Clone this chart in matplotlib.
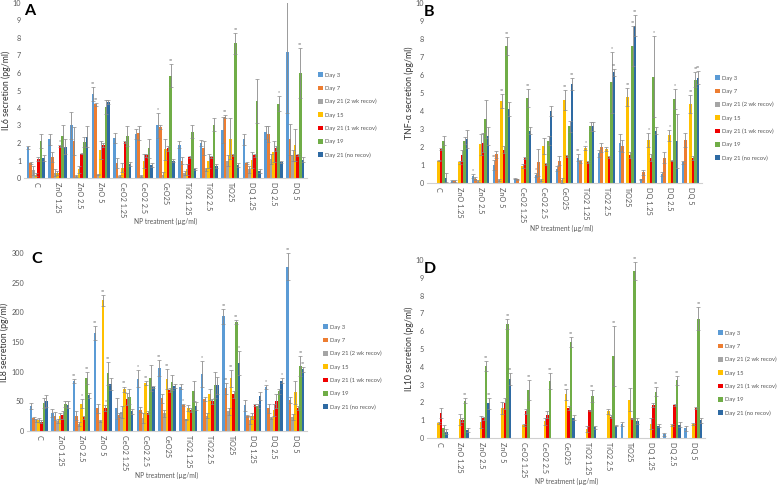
import matplotlib
matplotlib.use("Agg")
import matplotlib.pyplot as plt
import numpy as np
from matplotlib.patches import Patch

plt.rcParams["font.family"] = ["Lato", "DejaVu Sans"]

categories = ["C", "ZnO 1.25", "ZnO 2.5", "ZnO 5", "CeO2 1.25", "CeO2 2.5", "CeO25",
              "TiO2 1.25", "TiO2 2.5", "TiO25", "DQ 1.25", "DQ 2.5", "DQ 5"]
series = ["Day 3", "Day 7", "Day 21 (2 wk recov)", "Day 15", "Day 21 (1 wk recov)",
          "Day 19", "Day 21 (no recov)"]
colors = ["#5B9BD5", "#ED7D31", "#A5A5A5", "#FFC000", "#F00000", "#70AD47", "#2E6AA3"]

# Panel A: IL6 (pg/ml)
il6_day3 = [1.75, 2.2, 3.0, 4.8, 2.3, 2.5, 3.0, 1.9, 2.0, 2.75, 2.2, 2.6, 7.2]
il6_day7 = [0.85, 1.2, 2.1, 4.2, 0.85, 2.55, 2.9, 1.0, 1.7, 3.5, 0.85, 2.5, 2.2]
il6_d21_2wk = [0.45, 0.3, 0.1, 0.2, 0.1, 0.1, 0.15, 0.3, 0.5, 1.0, 0.5, 1.1, 1.3]
il6_day15 = [0.2, 0.3, 0.5, 1.6, 0.6, 1.0, 1.65, 0.5, 1.0, 2.25, 1.05, 1.5, 1.9]
il6_d21_1wk = [1.1, 1.85, 1.4, 1.9, 2.05, 1.3, 1.7, 1.2, 1.2, 1.3, 1.3, 1.7, 1.3]
il6_day19 = [2.1, 2.4, 2.05, 4.05, 2.4, 1.7, 5.85, 2.65, 3.05, 7.7, 4.4, 4.25, 6.0]
il6_d21_no = [1.15, 1.8, 2.35, 4.35, 0.8, 0.75, 1.0, 0.5, 0.7, 0.75, 0.4, 0.9, 1.05]
il6_err_day3 = [0.1, 0.3, 0.75, 0.4, 0.3, 0.3, 0.7, 0.2, 0.15, 0.75, 0.3, 0.35, 3.5]
il6_err_day7 = [0.05, 0.3, 0.8, 0.1, 0.3, 0.4, 0.1, 0.2, 0.4, 0.1, 0.05, 0.45, 0.9]
il6_err_d21_2wk = [0.25, 0.2, 0.05, 0.05, 0.05, 0.05, 0.2, 0.1, 0.1, 0.3, 0.2, 0.3, 0.3]
il6_err_day15 = [0.1, 0.1, 0.2, 0.5, 0.25, 0.4, 0.6, 0.3, 0.4, 1.15, 0.45, 0.6, 0.9]
il6_err_d21_1wk = [0.1, 0.05, 0.05, 0.1, 0.05, 0.1, 0.15, 0.05, 0.05, 0.05, 0.1, 0.15, 0.05]
il6_err_day19 = [0.4, 0.6, 0.3, 0.4, 0.55, 0.55, 0.65, 0.35, 0.35, 0.6, 1.25, 0.45, 1.45]
il6_err_d21_no = [0.15, 0.4, 0.6, 0.1, 0.1, 0.1, 0.1, 0.05, 0.1, 0.1, 0.1, 0.05, 0.15]
il6_sig = [(1, 4, "*"), (3, 0, "**"), (3, 1, "**"), (6, 0, "*"), (6, 5, "**"),
           (9, 1, "**"), (9, 5, "**"), (11, 5, "*"), (12, 5, "**")]

# Panel B: TNF-alpha (pg/ml)
tnf_day3 = [0, 0.1, 0.4, 1.0, 0.25, 0.45, 0.8, 1.4, 1.65, 2.25, 0.2, 0.5, 1.15]
tnf_day7 = [0, 0.1, 0.25, 1.6, 0.2, 1.15, 1.25, 1.2, 2.0, 2.05, 0.6, 1.4, 2.4]
tnf_d21_2wk = [0, 0, 0.1, 0.15, 0, 0.15, 0.15, 0, 0, 0, 0, 0, 0]
tnf_day15 = [1.25, 1.15, 2.15, 4.55, 0.95, 2.05, 4.6, 1.95, 1.9, 4.8, 2.4, 2.65, 4.4]
tnf_d21_1wk = [1.9, 1.55, 2.25, 1.85, 1.4, 1.05, 1.5, 1.15, 1.45, 1.55, 1.4, 1.25, 1.4]
tnf_day19 = [2.35, 2.35, 3.55, 7.6, 4.7, 2.35, 3.15, 3.15, 5.6, 7.6, 5.9, 4.65, 5.75]
tnf_d21_no = [0.3, 2.45, 2.6, 4.1, 2.9, 4.0, 5.5, 3.15, 6.15, 8.75, 2.9, 2.35, 5.85]
tnf_err_day3 = [0, 0.05, 0.1, 0.3, 0.05, 0.1, 0.15, 0.2, 0.2, 0.45, 0.05, 0.1, 0.1]
tnf_err_day7 = [0, 0.05, 0.1, 0.2, 0.05, 0.75, 0.25, 0.1, 0.25, 0.35, 0.15, 0.3, 0.4]
tnf_err_d21_2wk = [0, 0, 0.05, 0.05, 0, 0.05, 0.15, 0, 0, 0, 0, 0, 0]
tnf_err_day15 = [0.05, 0.1, 0.6, 0.4, 0.1, 0.45, 0.55, 0.1, 0.1, 0.5, 0.4, 0.3, 0.5]
tnf_err_d21_1wk = [0.05, 0.3, 0.55, 0.2, 0.05, 0.05, 0.05, 0.05, 0.05, 0.15, 0.2, 0.05, 0.1]
tnf_err_day19 = [0.25, 0.2, 1.05, 0.5, 0.5, 0.25, 0.3, 0.25, 1.7, 1.1, 2.25, 0.55, 0.4]
tnf_err_d21_no = [0.25, 0.5, 0.5, 0.4, 0.2, 0.3, 0.35, 0.25, 0.2, 0.6, 0.2, 1.5, 0.35]
tnf_sig = [(2, 0, "*"), (3, 0, "**"), (3, 3, "**"), (3, 5, "**"), (4, 5, "**"), (5, 0, "*"),
           (6, 3, "**"), (6, 6, "**"), (7, 0, "**"), (7, 3, "*"), (8, 5, "*"), (8, 6, "**"),
           (9, 3, "**"), (9, 5, "**"), (9, 6, "**"), (10, 3, "*"), (10, 5, "*"), (11, 3, "*"),
           (11, 5, "*"), (12, 3, "**"), (12, 5, "**"), (12, 6, "**")]

# Panel C: IL8 (pg/ml)
il8_day3 = [42, 30, 84, 165, 38, 88, 106, 75, 96, 193, 43, 74, 277]
il8_day7 = [22, 25, 26, 38, 27, 36, 55, 44, 54, 72, 25, 38, 52]
il8_d21_2wk = [18, 17, 12, 17, 32, 22, 30, 20, 26, 33, 18, 22, 24]
il8_day15 = [19, 25, 46, 220, 70, 81, 87, 38, 62, 89, 26, 36, 65]
il8_d21_1wk = [16, 27, 23, 39, 54, 31, 69, 35, 50, 62, 44, 50, 39]
il8_day19 = [47, 45, 90, 97, 58, 90, 82, 68, 77, 184, 42, 67, 110]
il8_d21_no = [50, 44, 60, 79, 33, 74, 76, 42, 77, 114, 59, 85, 104]
il8_err_day3 = [5, 7, 3, 12, 17, 14, 13, 4, 22, 13, 10, 4, 23]
il8_err_day7 = [2, 7, 7, 7, 3, 4, 8, 2, 3, 9, 2, 7, 5]
il8_err_d21_2wk = [3, 3, 3, 2, 10, 8, 6, 1, 4, 6, 7, 2, 5]
il8_err_day15 = [3, 5, 8, 10, 5, 4, 17, 5, 9, 14, 5, 10, 20]
il8_err_d21_1wk = [2, 7, 3, 5, 10, 3, 3, 3, 4, 6, 2, 12, 3]
il8_err_day19 = [8, 5, 10, 20, 12, 22, 13, 17, 22, 3, 3, 4, 17]
il8_err_d21_no = [10, 6, 4, 10, 4, 2, 4, 7, 14, 20, 7, 4, 4]
il8_sig = [(2, 0, "**"), (2, 3, "*"), (2, 5, "**"), (3, 0, "**"), (3, 3, "**"), (3, 4, "*"),
           (3, 5, "**"), (4, 3, "**"), (5, 0, "*"), (5, 3, "**"), (6, 0, "**"), (6, 3, "**"),
           (7, 1, "*"), (8, 0, "*"), (9, 0, "**"), (9, 1, "**"), (9, 3, "**"), (9, 5, "**"),
           (9, 6, "*"), (11, 0, "*"), (11, 6, "*"), (12, 0, "**"), (12, 5, "**"), (12, 6, "**")]

# Panel D: IL10 (pg/ml)
il10_day3 = [0, 0, 0, 0, 0, 0, 0, 0, 0, 0.8, 0, 0.2, 0.55]
il10_day7 = [0, 0, 0, 0, 0, 0, 0, 0, 0, 0, 0, 0, 0]
il10_d21_2wk = [0, 0, 0, 0, 0, 0, 0, 0, 0, 0, 0, 0, 0]
il10_day15 = [0.85, 1.05, 0.9, 1.7, 0.75, 0.95, 2.45, 0.5, 1.5, 2.15, 0.8, 0.75, 0.8]
il10_d21_1wk = [1.4, 1.0, 1.1, 1.95, 1.5, 1.3, 1.7, 1.55, 1.2, 1.1, 1.85, 1.85, 1.7]
il10_day19 = [0.55, 2.1, 4.05, 6.4, 2.7, 3.2, 5.4, 2.35, 4.6, 9.4, 2.6, 3.25, 6.7]
il10_d21_no = [0.35, 0.45, 1.95, 3.3, 0, 0, 1.15, 0.6, 0.7, 0.95, 0.7, 0.75, 1.0]
il10_err_day3 = [0, 0, 0, 0, 0, 0, 0, 0, 0, 0.1, 0, 0.1, 0.15]
il10_err_day7 = [0] * 13
il10_err_d21_2wk = [0] * 13
il10_err_day15 = [0.05, 0.3, 0.35, 0.35, 0.05, 0.2, 0.3, 0.15, 0.15, 0.65, 0.3, 0.05, 0.05]
il10_err_d21_1wk = [0.3, 0.1, 0.1, 0.3, 0.15, 0.2, 0.1, 0.05, 0.1, 0.05, 0.1, 0.05, 0.05]
il10_err_day19 = [0.2, 0.15, 0.3, 0.3, 0.55, 0.45, 0.3, 0.35, 1.7, 0.5, 0.25, 0.25, 0.65]
il10_err_d21_no = [0.15, 0.1, 0.3, 0.35, 0, 0, 0.15, 0.1, 0.05, 0.15, 0.1, 0.15, 0.15]
il10_sig = [(1, 5, "**"), (2, 5, "**"), (2, 6, "**"), (3, 5, "**"), (3, 6, "**"), (4, 5, "**"),
            (5, 5, "**"), (6, 3, "**"), (6, 5, "**"), (7, 5, "**"), (8, 5, "**"), (9, 5, "**"),
            (10, 5, "**"), (11, 5, "**"), (12, 5, "**")]

panels = [
    dict(letter="A", ylabel="IL6 secretion (pg/ml)", ymax=10, ystep=1,
         vals=[il6_day3, il6_day7, il6_d21_2wk, il6_day15, il6_d21_1wk, il6_day19, il6_d21_no],
         errs=[il6_err_day3, il6_err_day7, il6_err_d21_2wk, il6_err_day15, il6_err_d21_1wk,
               il6_err_day19, il6_err_d21_no], sig=il6_sig,
         rect=[24 / 778, 1 - 178 / 487, 283 / 778, 175 / 487], leg=(315, 115), xl=(166, 221),
         let=(24, 4)),
    dict(letter="B", ylabel="TNF-α secretion (pg/ml)", ymax=10, ystep=1,
         vals=[tnf_day3, tnf_day7, tnf_d21_2wk, tnf_day15, tnf_d21_1wk, tnf_day19, tnf_d21_no],
         errs=[tnf_err_day3, tnf_err_day7, tnf_err_d21_2wk, tnf_err_day15, tnf_err_d21_1wk,
               tnf_err_day19, tnf_err_d21_no], sig=tnf_sig,
         rect=[427 / 778, 1 - 183 / 487, 275 / 778, 180 / 487], leg=(712, 118), xl=(562, 228),
         let=(424, 5)),
    dict(letter="C", ylabel="IL8 secretion (pg/ml)", ymax=300, ystep=50,
         vals=[il8_day3, il8_day7, il8_d21_2wk, il8_day15, il8_d21_1wk, il8_day19, il8_d21_no],
         errs=[il8_err_day3, il8_err_day7, il8_err_d21_2wk, il8_err_day15, il8_err_d21_1wk,
               il8_err_day19, il8_err_d21_no], sig=il8_sig,
         rect=[27 / 778, 1 - 431 / 487, 280 / 778, 178 / 487], leg=(320, 367), xl=(167, 475),
         let=(31, 252)),
    dict(letter="D", ylabel="IL10 secretion (pg/ml)", ymax=10, ystep=1,
         vals=[il10_day3, il10_day7, il10_d21_2wk, il10_day15, il10_d21_1wk, il10_day19, il10_d21_no],
         errs=[il10_err_day3, il10_err_day7, il10_err_d21_2wk, il10_err_day15, il10_err_d21_1wk,
               il10_err_day19, il10_err_d21_no], sig=il10_sig,
         rect=[427 / 778, 1 - 438 / 487, 278 / 778, 178 / 487], leg=(715, 373), xl=(567, 481),
         let=(424, 262)),
]

fig = plt.figure(figsize=(7.78, 4.87), dpi=100)
tick_col = "#595959"
x = np.arange(len(categories))
n = len(series)
bw = 0.12

for p in panels:
    ax = fig.add_axes(p["rect"])
    for i in range(n):
        xs = x + (i - (n - 1) / 2) * bw
        v = np.array(p["vals"][i], dtype=float)
        e = np.array(p["errs"][i], dtype=float)
        ax.bar(xs, v, width=bw, color=colors[i], edgecolor="none", zorder=2)
        mask = (v > 0) | (e > 0)
        ax.errorbar(xs[mask], v[mask], yerr=e[mask], fmt="none", ecolor="#8a8a8a",
                    elinewidth=0.6, capsize=1.5, capthick=0.5, zorder=3)
    for (ci, si, s) in p["sig"]:
        xs = x[ci] + (si - (n - 1) / 2) * bw
        top = p["vals"][si][ci] + p["errs"][si][ci]
        ax.text(xs, top + p["ymax"] * 0.005, s, fontsize=3.5, color="#555555",
                ha="center", va="bottom")
    ax.set_xlim(-0.55, len(categories) - 0.45)
    ax.set_ylim(0, p["ymax"])
    ax.set_yticks(np.arange(0, p["ymax"] + 0.001, p["ystep"]))
    ax.set_xticks(x)
    ax.set_xticklabels(categories, rotation=-90, fontsize=5.2, color=tick_col)
    ax.tick_params(axis="both", length=0, labelsize=5.2, colors=tick_col, pad=3)
    ax.tick_params(axis="y", pad=2)
    for s in ["top", "right", "left"]:
        ax.spines[s].set_visible(False)
    ax.spines["bottom"].set_color("#d0d0d0")
    ax.spines["bottom"].set_linewidth(0.8)
    ax.set_ylabel(p["ylabel"], fontsize=6.3, color="#333333", labelpad=1.5)
    fig.text(p["xl"][0] / 778, 1 - p["xl"][1] / 487, "NP treatment (µg/ml)", fontsize=4.8,
             color=tick_col, ha="center", va="center")
    fig.text(p["let"][0] / 778, 1 - p["let"][1] / 487, p["letter"], fontsize=11.5,
             fontweight="bold", va="top", ha="left")
    handles = [Patch(facecolor=colors[i], edgecolor="none") for i in range(n)]
    fig.legend(handles, series, loc="center left",
               bbox_to_anchor=(p["leg"][0] / 778, 1 - p["leg"][1] / 487),
               frameon=False, fontsize=4.2, labelcolor=tick_col, handlelength=0.85,
               handleheight=0.85, handletextpad=0.4, labelspacing=1.35, borderpad=0)

fig.savefig("out.png", dpi=100)
